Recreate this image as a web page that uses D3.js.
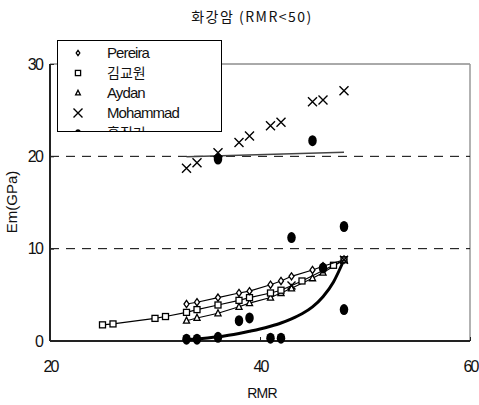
<!DOCTYPE html>
<html>
<head>
<meta charset="utf-8">
<script src="https://cdn.jsdelivr.net/npm/d3@7"></script>
<style>
  body { margin: 0; background: #fff; }
  svg { display: block; }
  text { font-family: "Liberation Sans Narrow", "Liberation Sans", Arial, sans-serif; fill: #111; }
  .kr { font-family: "Noto Sans CJK KR", sans-serif; }
</style>
</head>
<body>
<svg id="chart" width="479" height="405"></svg>
<script>
// Rock-mass modulus Em (GPa) versus RMR for granite, RMR < 50
const xTicks = [20, 40, 60];
const yTicks = [0, 10, 20, 30];
const gridValues = [10, 20];

// Pereira estimate
const pereiraRMR = [33, 34, 36, 38, 39, 41, 42, 43, 45, 46, 48];
const pereiraEm  = [4.0, 4.2, 4.7, 5.2, 5.4, 6.1, 6.5, 7.0, 7.7, 8.1, 8.8];

// 김교원 estimate
const kimRMR = [25, 26, 30, 31, 33, 34, 36, 38, 39, 41, 42, 44, 47, 48];
const kimEm  = [1.75, 1.85, 2.45, 2.65, 3.1, 3.4, 3.9, 4.4, 4.7, 5.2, 5.5, 6.5, 8.2, 8.8];

// Aydan estimate
const aydanRMR = [33, 34, 36, 38, 39, 41, 42, 43, 45, 46, 48];
const aydanEm  = [2.2, 2.5, 3.0, 3.7, 4.1, 4.7, 5.2, 5.7, 6.8, 7.4, 8.8];

// Mohammad data points and fitted line
const mohRMR = [33, 34, 36, 38, 39, 41, 42, 45, 46, 48];
const mohEm  = [18.7, 19.3, 20.4, 21.5, 22.2, 23.3, 23.7, 25.9, 26.1, 27.1];
const mohFitRMR = [33, 48];
const mohFitEm  = [19.95, 20.45];
const mohLowRMR = [43, 48];
const mohLowEm  = [6.0, 8.8];

// 홍진기 measured points and fitted curve
const hongRMR = [33, 34, 36, 36, 38, 39, 41, 42, 43, 45, 46, 48, 48];
const hongEm  = [0.2, 0.2, 0.4, 19.7, 2.2, 2.5, 0.3, 0.3, 11.2, 21.7, 7.9, 12.4, 3.4];
const hongFitRMR = [33, 34, 35, 36, 37, 38, 39, 40, 41, 42, 43, 44, 45, 46, 47, 48];
const hongFitEm  = [0.15, 0.22, 0.32, 0.45, 0.62, 0.82, 1.05, 1.3, 1.6, 1.95, 2.4, 2.95, 3.7, 4.8, 6.4, 8.8];

const legendNames = ["Pereira", "김교원", "Aydan", "Mohammad", "홍진기"];

const svg = d3.select("#chart");
const m = { left: 50, right: 470, top: 64, bottom: 341 };

const x = d3.scaleLinear().domain([20, 60]).range([m.left, m.right]);
const y = d3.scaleLinear().domain([0, 30]).range([m.bottom, m.top]);

// title
svg.append("text").attr("class", "kr")
  .attr("x", 252).attr("y", 22).attr("text-anchor", "middle")
  .attr("font-size", 14).attr("letter-spacing", 1.5)
  .text("화강암 (RMR<50)");

// plot frame: light top/right, dark left/bottom
svg.append("line").attr("x1", m.left).attr("x2", m.right).attr("y1", m.top).attr("y2", m.top)
  .attr("stroke", "#555").attr("stroke-width", 1);
svg.append("line").attr("x1", m.right).attr("x2", m.right).attr("y1", m.top).attr("y2", m.bottom)
  .attr("stroke", "#999").attr("stroke-width", 1.5);

// dashed gridlines
svg.append("g").selectAll("line").data(gridValues).join("line")
  .attr("x1", m.left).attr("x2", m.right)
  .attr("y1", d => y(d)).attr("y2", d => y(d))
  .attr("stroke", "#000").attr("stroke-width", 1)
  .attr("stroke-dasharray", "9,7");

// axes
const yAxis = d3.axisLeft(y).tickValues(yTicks).tickSize(-4).tickPadding(8).tickFormat(d3.format("d"));
const gy = svg.append("g").attr("transform", `translate(${m.left},0)`).call(yAxis);
const xAxis = d3.axisBottom(x).tickValues(xTicks).tickSize(-4).tickPadding(20).tickFormat(d3.format("d"));
const gx = svg.append("g").attr("transform", `translate(0,${m.bottom})`).call(xAxis);
[gx, gy].forEach(g => {
  g.select(".domain").attr("stroke", "#222").attr("stroke-width", 2);
  g.selectAll(".tick line").attr("stroke", "#222");
  g.selectAll(".tick text").attr("font-size", 16).attr("fill", "#111")
    .attr("letter-spacing", -1.8)
    .attr("font-family", "Liberation Sans Narrow, Liberation Sans, sans-serif");
});
gx.select(".domain").attr("d", `M${m.left},0H${m.right}`);
gy.select(".domain").attr("d", `M0,${m.bottom}V${m.top}`);

// axis titles
svg.append("text").attr("x", 262).attr("y", 398).attr("text-anchor", "middle")
  .attr("font-size", 14).attr("letter-spacing", -0.8).text("RMR");
svg.append("text").attr("transform", "translate(17,202) rotate(-90)")
  .attr("text-anchor", "middle").attr("font-family", "Liberation Sans, sans-serif")
  .attr("font-size", 15).text("Em(GPa)");

// marker shapes
const sym = {
  diamond: (g, s) => g.append("path").attr("d", `M0,${-s}L${s * 0.7},0L0,${s}L${-s * 0.7},0Z`)
    .attr("fill", "#fff").attr("stroke", "#000").attr("stroke-width", 1.3),
  square: (g, s) => g.append("rect").attr("x", -s).attr("y", -s).attr("width", 2 * s).attr("height", 2 * s)
    .attr("fill", "#fff").attr("stroke", "#000").attr("stroke-width", 1.3),
  triangle: (g, s) => g.append("path").attr("d", `M0,${-s}L${s * 0.85},${s * 0.7}L${-s * 0.85},${s * 0.7}Z`)
    .attr("fill", "#fff").attr("stroke", "#000").attr("stroke-width", 1.3),
  cross: (g, s) => g.append("path").attr("d", `M${-s},${-s}L${s},${s}M${s},${-s}L${-s},${s}`)
    .attr("stroke", "#000").attr("stroke-width", 1.4).attr("fill", "none"),
  dot: (g, s) => g.append("ellipse").attr("rx", s * 0.85).attr("ry", s * 1.1).attr("fill", "#000")
};

function zip(a, b) { return a.map((v, i) => [v, b[i]]); }
const line = d3.line().x(d => x(d[0])).y(d => y(d[1]));
const curve = d3.line().x(d => x(d[0])).y(d => y(d[1])).curve(d3.curveMonotoneX);

function series(xs, ys, shape, size, withLine) {
  const data = zip(xs, ys);
  if (withLine) {
    svg.append("path").datum(data).attr("d", line)
      .attr("fill", "none").attr("stroke", "#000").attr("stroke-width", 1.1);
  }
  svg.append("g").selectAll("g").data(data).join("g")
    .attr("transform", d => `translate(${x(d[0])},${y(d[1])})`)
    .each(function () { sym[shape](d3.select(this), size); });
}

// fitted curve for 홍진기 (thick)
svg.append("path").datum(zip(hongFitRMR, hongFitEm)).attr("d", curve)
  .attr("fill", "none").attr("stroke", "#000").attr("stroke-width", 3);

// Mohammad fitted line
svg.append("path").datum(zip(mohFitRMR, mohFitEm)).attr("d", line)
  .attr("fill", "none").attr("stroke", "#444").attr("stroke-width", 1.6);

series(aydanRMR, aydanEm, "triangle", 3.6, true);
series(kimRMR, kimEm, "square", 3, true);
series(pereiraRMR, pereiraEm, "diamond", 3.6, true);
series(mohLowRMR, mohLowEm, "cross", 4, false);
series(hongRMR, hongEm, "dot", 5, false);
series(mohRMR, mohEm, "cross", 4.5, false);

// legend, clipped to its box
const lg = { x: 57, y: 40, w: 164, h: 91 };
svg.append("clipPath").attr("id", "legclip").append("rect")
  .attr("x", lg.x).attr("y", lg.y).attr("width", lg.w).attr("height", lg.h);
const leg = svg.append("g").attr("clip-path", "url(#legclip)");
leg.append("rect").attr("x", lg.x).attr("y", lg.y).attr("width", lg.w).attr("height", lg.h)
  .attr("fill", "#fff");
const legShapes = ["diamond", "square", "triangle", "cross", "dot"];
const legSizes = [2.6, 2.6, 2.8, 4.5, 3.5];
legendNames.forEach((name, i) => {
  const cy = 53 + i * 20;
  const g = leg.append("g").attr("transform", `translate(78,${cy})`);
  sym[legShapes[i]](g, legSizes[i]);
  const kr = /[가-힣]/.test(name);
  leg.append("text").attr("x", 107).attr("y", cy + 5)
    .attr("class", kr ? "kr" : null)
    .attr("font-size", kr ? 14 : 15)
    .attr("letter-spacing", kr ? 0 : -0.9)
    .text(name);
});
svg.append("rect").attr("x", lg.x + 0.5).attr("y", lg.y + 0.5).attr("width", lg.w).attr("height", lg.h)
  .attr("fill", "none").attr("stroke", "#000").attr("stroke-width", 1);
</script>
</body>
</html>
